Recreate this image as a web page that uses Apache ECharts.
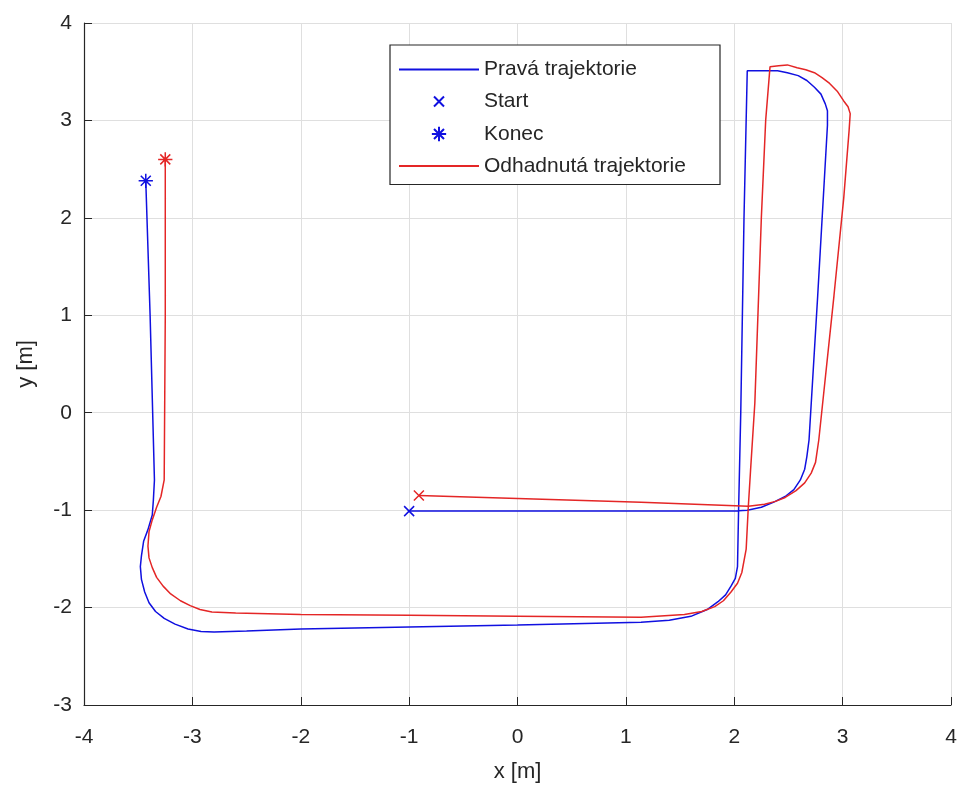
<!DOCTYPE html>
<html>
<head>
<meta charset="utf-8">
<script src="https://cdn.jsdelivr.net/npm/echarts@6/dist/echarts.min.js"></script>
<style>
  html,body{margin:0;padding:0;background:#fff}
  #chart{width:962px;height:792px}
</style>
</head>
<body>
<div id="chart"></div>
<script>
// true trajectory (blue)
const trueX = [-1.00, 0.00, 1.00, 2.00, 2.12, 2.25, 2.36, 2.47, 2.55, 2.61, 2.65, 2.67, 2.69, 2.77, 2.86, 2.86, 2.84, 2.80, 2.74, 2.67, 2.59, 2.49, 2.40, 2.12,
  2.09, 2.06, 2.04, 2.03, 2.01, 1.97, 1.92, 1.85, 1.75, 1.60, 1.40, 1.14, 0.00, -1.00, -2.00, -2.50, -2.80, -2.92, -3.04, -3.16, -3.26, -3.34, -3.40, -3.44, -3.47,
  -3.48, -3.47, -3.45, -3.41, -3.37, -3.36, -3.35, -3.39, -3.43]
const trueY = [-1.01, -1.01, -1.01, -1.01, -1.00, -0.97, -0.92, -0.86, -0.79, -0.69, -0.58, -0.45, -0.28, 1.20, 2.95, 3.10, 3.17, 3.27, 3.34, 3.41, 3.46, 3.49, 3.51, 3.51,
  2.00, 0.00, -1.00, -1.58, -1.70, -1.78, -1.87, -1.94, -2.02, -2.09, -2.13, -2.15, -2.18, -2.20, -2.22, -2.24, -2.25, -2.245, -2.22, -2.17, -2.11, -2.04, -1.95, -1.84, -1.71,
  -1.58, -1.47, -1.32, -1.20, -1.05, -0.90, -0.69, 1.00, 2.38]

// estimated trajectory (red)
const estX = [-0.91, 0.00, 1.14, 2.13, 2.28, 2.38, 2.47, 2.57, 2.65, 2.71, 2.75, 2.78, 2.92, 3.01, 3.06, 3.07, 3.05, 3.01, 2.95, 2.88, 2.81, 2.74, 2.66, 2.58, 2.49, 2.41, 2.33,
  2.29, 2.25, 2.19, 2.15, 2.13, 2.11, 2.07, 2.03, 1.97, 1.90, 1.82, 1.70, 1.54, 1.14, 0.00, -1.00, -2.00, -2.60, -2.82, -2.93, -3.02, -3.11, -3.20, -3.27, -3.33, -3.37,
  -3.40, -3.41, -3.40, -3.37, -3.33, -3.29, -3.26, -3.25, -3.25]
const estY = [-0.85, -0.88, -0.92, -0.96, -0.94, -0.91, -0.87, -0.80, -0.72, -0.62, -0.51, -0.28, 1.20, 2.20, 2.90, 3.07, 3.14, 3.20, 3.30, 3.38, 3.44, 3.49, 3.52, 3.54, 3.57, 3.56, 3.55,
  3.00, 2.00, 0.10, -0.60, -0.96, -1.40, -1.64, -1.75, -1.84, -1.93, -1.99, -2.04, -2.07, -2.10, -2.09, -2.08, -2.07, -2.055, -2.045, -2.02, -1.98, -1.93, -1.86, -1.78, -1.69, -1.59,
  -1.49, -1.37, -1.22, -1.10, -0.97, -0.86, -0.69, 1.00, 2.60]

const startTrue = [-1.00, -1.01]
const startEst = [-0.91, -0.85]
const endTrue = [-3.43, 2.38]
const endEst = [-3.25, 2.60]

const names = ['Pravá trajektorie', 'Start', 'Konec', 'Odhadnutá trajektorie']
const xTicks = {min:-4, max:4, step:1}
const yTicks = {min:-3, max:4, step:1}

const BLUE = '#1010e0'
const RED = '#e42626'
const AXIS = '#262626'
const FONT = 'Liberation Sans'

// marker paths (extra moveTo points pad the box so the glyph keeps its size)
const crossPath = 'path://M-5,-5M15,15M0,0L10,10M10,0L0,10'
const starPath = 'path://M-2,-2M12,12M5,0L5,10M0,5L10,5M1.5,1.5L8.5,8.5M8.5,1.5L1.5,8.5'

const zip = (xs, ys)=> xs.map((x,i)=>[x, ys[i]])

const chart = echarts.init(document.getElementById('chart'), null, {renderer:'canvas'})

function valueAxis(t, extra){
  return Object.assign({
    type:'value', min:t.min, max:t.max, interval:t.step,
    axisLine:{show:true, onZero:false, lineStyle:{color:AXIS, width:1.2}},
    axisTick:{show:true, inside:true, length:8, lineStyle:{color:AXIS}},
    splitLine:{show:true, lineStyle:{color:'#dfdfdf', width:1}},
    nameTextStyle:{color:AXIS, fontSize:22, fontFamily:FONT}
  }, extra)
}

const opt = {
  animation:false,
  backgroundColor:'#fff',
  grid:{left:84, right:11, top:23, bottom:87},
  xAxis: valueAxis(xTicks, {name:'x [m]', nameLocation:'middle', nameGap:56,
    axisLabel:{color:AXIS, fontSize:21, fontFamily:FONT, margin:22}}),
  yAxis: valueAxis(yTicks, {name:'y [m]', nameLocation:'middle', nameGap:47, nameRotate:90,
    axisLabel:{color:AXIS, fontSize:21, fontFamily:FONT, margin:12}}),
  legend:{
    data:[
      {name:names[0], itemStyle:{opacity:0}},
      {name:names[1]},
      {name:names[2]},
      {name:names[3], itemStyle:{opacity:0}}
    ],
    orient:'vertical', left:390, top:45,
    padding:[14,10,8,8], itemWidth:80, itemHeight:20, itemGap:10.5,
    backgroundColor:'#fff', borderColor:AXIS, borderWidth:1.2,
    textStyle:{color:'#262626', fontSize:21, fontFamily:FONT, width:226, lineHeight:20}
  },
  series:[
    {name:names[0], type:'line', data:zip(trueX, trueY), showSymbol:false, symbol:'none',
      lineStyle:{color:BLUE, width:1.5}, itemStyle:{color:BLUE}, z:2},
    {name:names[3], type:'line', data:zip(estX, estY), showSymbol:false, symbol:'none',
      lineStyle:{color:RED, width:1.5}, itemStyle:{color:RED}, z:3},
    {name:names[1], type:'scatter', symbol:crossPath, symbolSize:20, symbolKeepAspect:true,
      itemStyle:{color:BLUE, borderColor:BLUE, borderWidth:1.5, opacity:1},
      data:[{value:startTrue}, {value:startEst, itemStyle:{color:RED, borderColor:RED}}], z:4},
    {name:names[2], type:'scatter', symbol:starPath, symbolSize:20, symbolKeepAspect:true,
      itemStyle:{color:BLUE, borderColor:BLUE, borderWidth:1.5, opacity:1},
      data:[{value:endTrue}, {value:endEst, itemStyle:{color:RED, borderColor:RED}}], z:4}
  ]
}
chart.setOption(opt)
</script>
</body>
</html>
